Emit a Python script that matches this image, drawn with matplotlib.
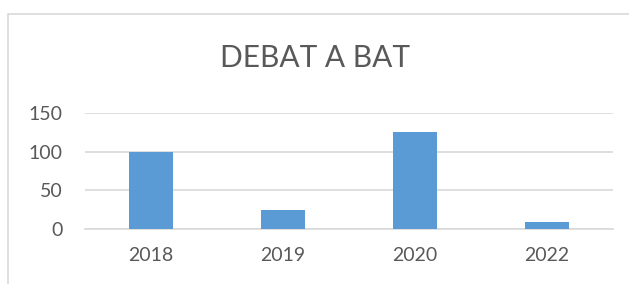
import matplotlib.pyplot as plt
from matplotlib.patches import Rectangle

# data
years = ["2018", "2019", "2020", "2022"]
counts = [99, 24, 125, 9]
yticks = [0, 50, 100, 150]

plt.rcParams['font.family'] = ['Lato', 'DejaVu Sans']
txt = '#595959'
grid = '#D9D9D9'

fig = plt.figure(figsize=(6.29, 2.84), dpi=100)
# outer chart frame (cropped at right/bottom)
fig.patches.append(Rectangle((8 / 629, -0.1), 1.2, 1 - 14 / 284 + 0.1,
                             transform=fig.transFigure, fill=False,
                             edgecolor=grid, linewidth=1.2))

ax = fig.add_axes([85 / 629, 1 - 229 / 284, (613 - 85) / 629, (229 - 113) / 284])
x = list(range(len(years)))
ax.bar(x, counts, width=0.33, color='#5B9BD5', zorder=3)
ax.set_xlim(-0.5, len(years) - 0.5)
ax.set_ylim(0, 150)
ax.set_yticks(yticks)
ax.set_xticks(x)
ax.set_xticklabels(years)
ax.yaxis.grid(True, color=grid, linewidth=1.2, zorder=0)
for s in ['top', 'right', 'left']:
    ax.spines[s].set_visible(False)
ax.spines['bottom'].set_color(grid)
ax.spines['bottom'].set_linewidth(1.2)
ax.tick_params(length=0, labelsize=14, colors=txt)
ax.tick_params(axis='x', pad=13)
ax.tick_params(axis='y', pad=16)
fig.text(0.5, 1 - 58 / 284, "DEBAT A BAT", ha='center', va='center',
         fontsize=21.5, color=txt)

fig.savefig("out.png", dpi=100)
